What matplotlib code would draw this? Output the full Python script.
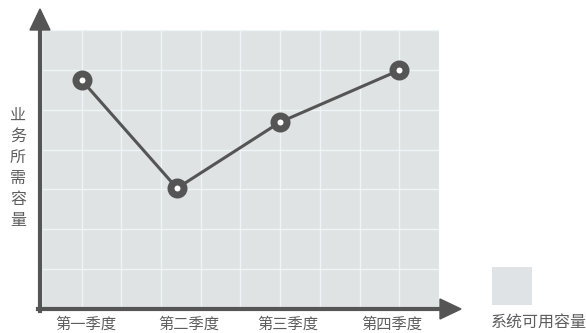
import matplotlib.pyplot as plt
from matplotlib.patches import Polygon, Rectangle
from matplotlib.lines import Line2D

plt.rcParams['font.family'] = ['Noto Sans CJK SC', 'DejaVu Sans']

quarters = ['第一季度', '第二季度', '第三季度', '第四季度']
quarter_pos = [1.0, 3.4, 6.0, 9.0]
label_pos = [1.1, 3.7, 6.2, 8.8]
demand = [5.74, 3.03, 4.69, 5.99]
ylabel = '业务所需容量'
legend_label = '系统可用容量'

W, H = 586, 333
fig = plt.figure(figsize=(W / 100, H / 100), dpi=100)


def px(x, y):
    return (x / W, 1 - y / H)


ax = fig.add_axes([42 / W, (H - 309) / H, (439 - 42) / W, (309 - 30) / H])
ax.set_facecolor('#dfe3e4')
ax.set_xlim(0, 10)
ax.set_ylim(0, 7)
ax.set_xticks(range(0, 11))
ax.set_yticks(range(0, 8))
ax.grid(True, color='#eef4f8', linewidth=1)
ax.tick_params(length=0, labelbottom=False, labelleft=False)
for s in ax.spines.values():
    s.set_visible(False)

ax.plot(quarter_pos, demand, color='#555555', linewidth=2.2,
        marker='o', markersize=9.4, markerfacecolor='white',
        markeredgecolor='#555555', markeredgewidth=5, zorder=3)

for p, q in zip(label_pos, quarters):
    ax.text(p, -0.38, q, ha='center', va='center', fontsize=11,
            color='#5e5e5e', fontweight='medium')

# axis lines with arrows
axis_col = '#555555'
fig.add_artist(Line2D([40 / W, 40 / W], [px(0, 311)[1], px(0, 28)[1]],
                      color=axis_col, linewidth=3, transform=fig.transFigure))
fig.add_artist(Line2D([px(38, 0)[0], px(442, 0)[0]], [px(0, 309)[1]] * 2,
                      color=axis_col, linewidth=3, transform=fig.transFigure))
fig.add_artist(Polygon([px(30, 30), px(50, 30), px(40, 9)], closed=True,
                       color=axis_col, transform=fig.transFigure))
fig.add_artist(Polygon([px(440, 299), px(440, 319), px(461, 309)], closed=True,
                       color=axis_col, transform=fig.transFigure))

# vertical y label
fig.text(*px(18, 168), '\n'.join(ylabel), ha='center', va='center',
         fontsize=11.5, color='#5e5e5e', linespacing=1.3, fontweight='medium')

# legend
fig.add_artist(Rectangle(px(492, 305), 40 / W, 38 / H, facecolor='#dfe3e5',
                         edgecolor='none', transform=fig.transFigure))
fig.text(*px(491, 322), legend_label, ha='left', va='center',
         fontsize=11.5, color='#5e5e5e', fontweight='medium')

fig.savefig('out.png', dpi=100)
